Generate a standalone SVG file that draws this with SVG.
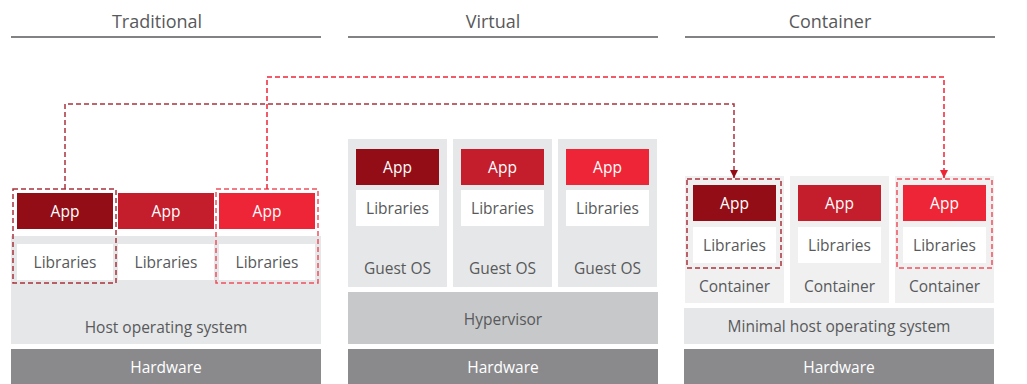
<svg xmlns="http://www.w3.org/2000/svg" width="1027" height="384" viewBox="0 0 1027 384">
<style>
text{font-family:"Open Sans","Noto Sans","Liberation Sans",sans-serif;text-anchor:middle;dominant-baseline:central}
.title{font-size:18px;fill:#58595b}
.t{font-size:15.5px;fill:#58595b}
.w{font-size:15.5px;fill:#ffffff}
.hline{stroke:#58595b;stroke-width:1.5}
.app1{fill:#930d17}.app2{fill:#c41d2c}.app3{fill:#ee2536}
.lib{fill:#ffffff}
.os{fill:#e6e7e8}
.ctr{fill:#f0f0f1}
.hyp{fill:#c7c8ca}
.hw{fill:#8a8a8d}
.d1{fill:none;stroke:#a8323c;stroke-width:1.5;stroke-dasharray:5,3}
.d3{fill:none;stroke:#ee2536;stroke-width:1.5;stroke-dasharray:5,3}
.o3{fill:none;stroke:#f0505d;stroke-width:1.5;stroke-dasharray:5,3}
</style>
<defs>
<marker id="a1" viewBox="0 0 10 10" refX="10" refY="5" markerWidth="8" markerHeight="8" markerUnits="userSpaceOnUse" orient="auto"><path d="M0,0 L10,5 L0,10 Z" fill="#930d17"/></marker>
<marker id="a3" viewBox="0 0 10 10" refX="10" refY="5" markerWidth="8" markerHeight="8" markerUnits="userSpaceOnUse" orient="auto"><path d="M0,0 L10,5 L0,10 Z" fill="#ee2536"/></marker>
</defs>

<g id="headers">
<text class="title" x="157" y="21">Traditional</text>
<line class="hline" x1="11" y1="37" x2="321" y2="37"/>
<text class="title" x="493" y="21">Virtual</text>
<line class="hline" x1="348" y1="37" x2="658" y2="37"/>
<text class="title" x="830" y="21">Container</text>
<line class="hline" x1="685" y1="37" x2="995" y2="37"/>
</g>

<!-- Traditional -->
<g id="trad-hostos"><rect class="os" x="11" y="236" width="310" height="108"/><text class="t" x="166" y="327">Host operating system</text></g>
<g id="trad-hardware"><rect class="hw" x="11" y="349" width="310" height="35"/><text class="w" x="166" y="367">Hardware</text></g>
<g id="trad-app1"><rect class="app1" x="17" y="193" width="96" height="36"/><text class="w" x="65" y="211">App</text></g>
<g id="trad-app2"><rect class="app2" x="118" y="193" width="96" height="36"/><text class="w" x="166" y="211">App</text></g>
<g id="trad-app3"><rect class="app3" x="219" y="193" width="96" height="36"/><text class="w" x="267" y="211">App</text></g>
<g id="trad-lib1"><rect class="lib" x="17" y="244" width="96" height="36"/><text class="t" x="65" y="262">Libraries</text></g>
<g id="trad-lib2"><rect class="lib" x="118" y="244" width="96" height="36"/><text class="t" x="166" y="262">Libraries</text></g>
<g id="trad-lib3"><rect class="lib" x="219" y="244" width="96" height="36"/><text class="t" x="267" y="262">Libraries</text></g>
<g id="trad-group1"><rect class="d1" x="13" y="189" width="103" height="94"/></g>
<g id="trad-group3"><rect class="o3" x="216" y="189" width="102" height="94"/></g>

<!-- Virtual -->
<g id="vm1"><rect class="os" x="348" y="139" width="99" height="148"/>
<rect class="app1" x="356" y="149" width="83" height="36"/><text class="w" x="397.5" y="167">App</text>
<rect class="lib" x="356" y="190" width="83" height="36"/><text class="t" x="397.5" y="208">Libraries</text>
<text class="t" x="397.5" y="268">Guest OS</text></g>
<g id="vm2"><rect class="os" x="453" y="139" width="99" height="148"/>
<rect class="app2" x="461" y="149" width="83" height="36"/><text class="w" x="502.5" y="167">App</text>
<rect class="lib" x="461" y="190" width="83" height="36"/><text class="t" x="502.5" y="208">Libraries</text>
<text class="t" x="502.5" y="268">Guest OS</text></g>
<g id="vm3"><rect class="os" x="558" y="139" width="99" height="148"/>
<rect class="app3" x="566" y="149" width="83" height="36"/><text class="w" x="607.5" y="167">App</text>
<rect class="lib" x="566" y="190" width="83" height="36"/><text class="t" x="607.5" y="208">Libraries</text>
<text class="t" x="607.5" y="268">Guest OS</text></g>
<g id="hypervisor"><rect class="hyp" x="348" y="292" width="310" height="52"/><text class="t" x="503" y="319">Hypervisor</text></g>
<g id="virt-hardware"><rect class="hw" x="348" y="349" width="310" height="35"/><text class="w" x="503" y="367">Hardware</text></g>

<!-- Container -->
<g id="ctr1"><rect class="ctr" x="685" y="176" width="99" height="127"/>
<rect class="app1" x="693" y="185" width="83" height="36"/><text class="w" x="734.5" y="203">App</text>
<rect class="lib" x="693" y="227" width="83" height="36"/><text class="t" x="734.5" y="245">Libraries</text>
<text class="t" x="734.5" y="286">Container</text>
<rect class="d1" x="687" y="179" width="94" height="89"/></g>
<g id="ctr2"><rect class="ctr" x="790" y="176" width="99" height="127"/>
<rect class="app2" x="798" y="185" width="83" height="36"/><text class="w" x="839.5" y="203">App</text>
<rect class="lib" x="798" y="227" width="83" height="36"/><text class="t" x="839.5" y="245">Libraries</text>
<text class="t" x="839.5" y="286">Container</text></g>
<g id="ctr3"><rect class="ctr" x="895" y="176" width="99" height="127"/>
<rect class="app3" x="903" y="185" width="83" height="36"/><text class="w" x="944.5" y="203">App</text>
<rect class="lib" x="903" y="227" width="83" height="36"/><text class="t" x="944.5" y="245">Libraries</text>
<text class="t" x="944.5" y="286">Container</text>
<rect class="o3" x="897" y="179" width="95" height="89"/></g>
<g id="min-hostos"><rect class="os" x="684" y="308" width="310" height="36"/><text class="t" x="839" y="326">Minimal host operating system</text></g>
<g id="ctr-hardware"><rect class="hw" x="684" y="349" width="310" height="35"/><text class="w" x="839" y="367">Hardware</text></g>

<g id="connectors">
<path class="d1" d="M65 189 V104 H734 V178" marker-end="url(#a1)"/>
<path class="d3" d="M267 189 V77 H944 V178" marker-end="url(#a3)"/>
</g>
</svg>
